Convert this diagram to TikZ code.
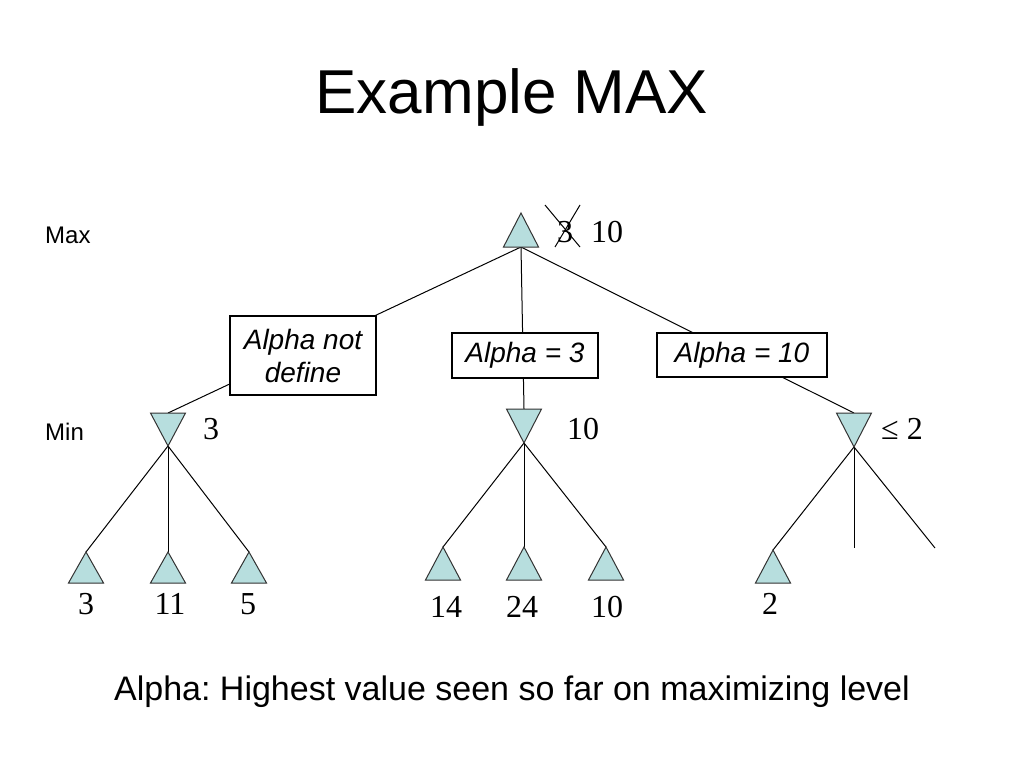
\documentclass[tikz,border=0pt]{standalone}
\usepackage{fontspec}
\setmainfont{Liberation Serif}
\setsansfont{Liberation Sans}
\frenchspacing
\newcommand{\maxtri}[4]{% name, x, apex y, base y
  \coordinate (#1-apex) at (#2,#3);
  \coordinate (#1-base) at (#2,#4);
  \fill[trifill] (#2-17.5,#4) -- (#2,#3) -- (#2+17.5,#4) -- cycle;
  \draw[triline] (#2-17.5,#4) -- (#2,#3) -- (#2+17.5,#4) -- cycle;}
\newcommand{\mintri}[4]{% name, x, base y (top), apex y (bottom)
  \coordinate (#1-base) at (#2,#3);
  \coordinate (#1-apex) at (#2,#4);
  \fill[trifill] (#2-17.5,#3) -- (#2,#4) -- (#2+17.5,#3) -- cycle;
  \draw[triline] (#2-17.5,#3) -- (#2,#4) -- (#2+17.5,#3) -- cycle;}
\begin{document}
\begin{tikzpicture}[x=1pt,y=-1pt,
  trifill/.style={fill=tricol},
  triline/.style={draw=black!80,line width=1pt,line join=miter},
  edge/.style={draw=black,line width=1pt},
  num/.style={font=\fontsize{32}{36}\selectfont,inner sep=0pt},
  alphabox/.style={draw=black,line width=1.2pt,fill=white,inner sep=0pt,align=center,
     font=\sffamily\itshape\fontsize{28}{33}\selectfont},
  lvl/.style={font=\sffamily\fontsize{24}{27}\selectfont,inner sep=0pt,anchor=west}]
\definecolor{tricol}{RGB}{183,222,222}
\useasboundingbox (0,0) rectangle (1024,768);
\fill[white] (0,0) rectangle (1024,768);

% title and caption
\node[font=\sffamily\fontsize{62}{70}\selectfont] (title) at (512,97) {Example MAX};
\node[font=\sffamily\fontsize{34}{40}\selectfont] (caption) at (512,692) {Alpha: Highest value seen so far on maximizing level};
\node[lvl] (maxlbl) at (45,235) {Max};
\node[lvl] (minlbl) at (45,432) {Min};

% coordinates of the tree
\coordinate (r-base) at (521,247);
\coordinate (a-base) at (168,413);
\coordinate (a-apex) at (168,446);
\coordinate (b-base) at (524,409);
\coordinate (b-apex) at (524,443);
\coordinate (c-base) at (854,413);
\coordinate (c-apex) at (854,447);
\coordinate (a1-apex) at (86,552);
\coordinate (a2-apex) at (168,552);
\coordinate (a3-apex) at (249,552);
\coordinate (b1-apex) at (443,547);
\coordinate (b2-apex) at (524,547);
\coordinate (b3-apex) at (606,547);
\coordinate (c1-apex) at (773,550);
\coordinate (c2-end) at (854,548);
\coordinate (c3-end) at (935,548);

% edges
\draw[edge] (r-base) -- (a-base);
\draw[edge] (r-base) -- (b-base);
\draw[edge] (r-base) -- (c-base);
\draw[edge] (a-apex) -- (a1-apex);
\draw[edge] (a-apex) -- (a2-apex);
\draw[edge] (a-apex) -- (a3-apex);
\draw[edge] (b-apex) -- (b1-apex);
\draw[edge] (b-apex) -- (b2-apex);
\draw[edge] (b-apex) -- (b3-apex);
\draw[edge] (c-apex) -- (c1-apex);
\draw[edge] (c-apex) -- (c2-end);
\draw[edge] (c-apex) -- (c3-end);

% alpha boxes
\node[alphabox,minimum width=146pt,minimum height=79pt] (box1) at (303,355.5) {Alpha not\\define};
\node[alphabox,minimum width=146pt,minimum height=45pt] (box2) at (525,355.5) {Alpha = 3};
\node[alphabox,minimum width=170pt,minimum height=44pt] (box3) at (742,355) {Alpha = 10};

% triangles
\maxtri{r}{521}{213}{247}
\mintri{a}{168}{413}{446}
\mintri{b}{524}{409}{443}
\mintri{c}{854}{413}{447}
\maxtri{a1}{86}{552}{583}
\maxtri{a2}{168}{552}{583}
\maxtri{a3}{249}{552}{583}
\maxtri{b1}{443}{547}{580}
\maxtri{b2}{524}{547}{580}
\maxtri{b3}{606}{547}{580}
\maxtri{c1}{773}{550}{583}

% values
\node[num] (rv3) at (565,232) {3};
\node[num] (rv10) at (607,232) {10};
\coordinate (x1a) at (545,205);
\coordinate (x1b) at (580,247);
\coordinate (x2a) at (580,205);
\coordinate (x2b) at (555,247);
\draw[line width=1pt] (x1a) -- (x1b);
\draw[line width=1pt] (x2a) -- (x2b);
\node[num] (av) at (211,429) {3};
\node[num] (bv) at (583,429) {10};
\node[num] (cv) at (902,429) {≤ 2};
\node[num] (a1v) at (86,604) {3};
\node[num] (a2v) at (170,604) {11};
\node[num] (a3v) at (248,604) {5};
\node[num] (b1v) at (446,607) {14};
\node[num] (b2v) at (522,607) {24};
\node[num] (b3v) at (607,607) {10};
\node[num] (c1v) at (770,604) {2};
\end{tikzpicture}
\end{document}
